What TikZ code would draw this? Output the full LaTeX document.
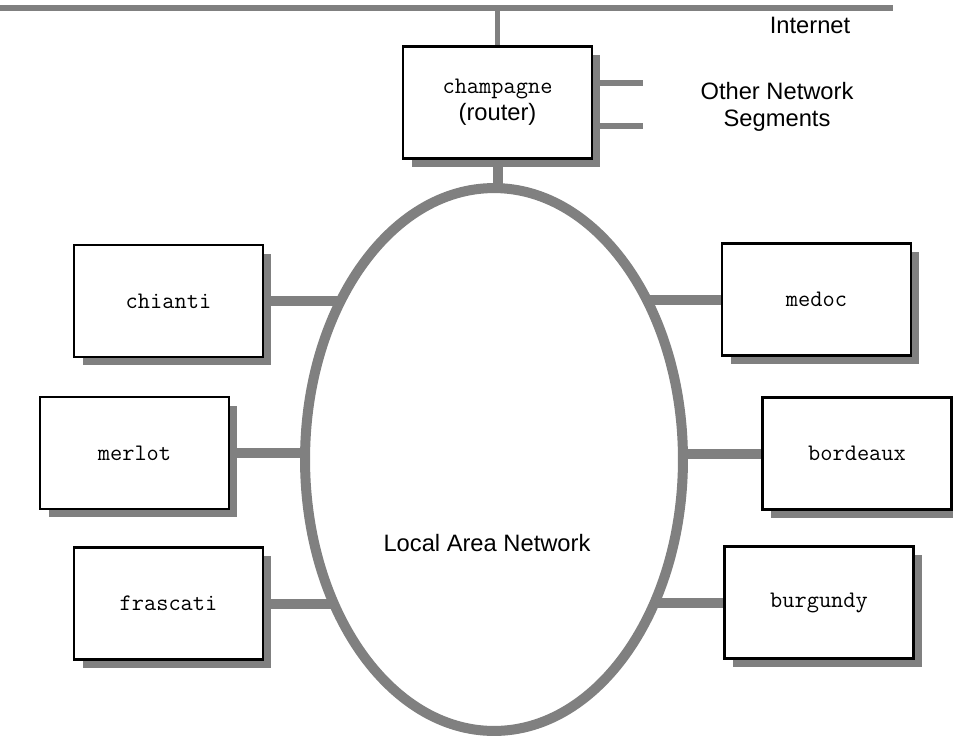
\documentclass[tikz,border=0pt]{standalone}
\usepackage{fontspec}
\setmainfont{Liberation Sans}
\usetikzlibrary{shadows,shapes.geometric,backgrounds}
\definecolor{wire}{gray}{0.5}

\begin{document}
\begin{tikzpicture}[x=0.02cm,y=-0.02cm,
    host/.style={rectangle,draw,line width=1.4pt,fill=white,minimum width=3.78cm,
        minimum height=2.24cm,inner sep=0pt,align=center,
        font=\ttfamily\fontsize{13.5}{15.5}\selectfont,
        drop shadow={shadow xshift=0.17cm,shadow yshift=-0.17cm,fill=wire,opacity=1}},
    ring/.style={ellipse,draw=wire,line width=0.2cm,fill=white,inner sep=0pt,
        minimum width=7.56cm,minimum height=10.86cm},
    lanwire/.style={draw=wire,line width=0.2cm},
    thinwire/.style={draw=wire,line width=0.11cm},
    tag/.style={font=\fontsize{13.5}{15}\selectfont,align=center}
]
\useasboundingbox (0,0) rectangle (953,738);

\coordinate (inetL) at (0,8);
\coordinate (inetR) at (893,8);
\coordinate (seg1)  at (643,83);
\coordinate (seg2)  at (643,126);

\node[ring] (lan) at (494,459.5) {};
\node[tag]  (lanname) at (487,543) {Local Area Network};

\node[host] (router)   at (497.5,102.5) {champagne\\{\rmfamily\fontsize{13.5}{15}\selectfont(router)}};
\node[host] (chianti)  at (168.5,301)   {chianti};
\node[host] (merlot)   at (134.5,453)   {merlot};
\node[host] (frascati) at (168.5,603.5) {frascati};
\node[host] (medoc)    at (816.5,299.5) {medoc};
\node[host] (bordeaux) at (857,453.5)   {bordeaux};
\node[host] (burgundy) at (819,602.5)   {burgundy};

\node[tag] (internet) at (810,25)  {Internet};
\node[tag] (othernet) at (777,107) {Other Network\\Segments};

\draw[thinwire] (inetL) -- (inetR);
\begin{pgfonlayer}{background}
\draw[thinwire] (router.north) -- (router.north |- inetL);
\draw[thinwire] (seg1 -| router.center) -- (seg1);
\draw[thinwire] (seg2 -| router.center) -- (seg2);
\draw[lanwire] (router.south) -- (router.south |- lan.center);
\draw[lanwire] (chianti.east)  -- (chianti.east -| lan.center);
\draw[lanwire] (merlot.east)   -- (merlot.east -| lan.center);
\draw[lanwire] (frascati.east) -- (frascati.east -| lan.center);
\draw[lanwire] (medoc.west)    -- (medoc.west -| lan.center);
\draw[lanwire] (bordeaux.west) -- (bordeaux.west -| lan.center);
\draw[lanwire] (burgundy.west) -- (burgundy.west -| lan.center);
\end{pgfonlayer}
\end{tikzpicture}
\end{document}
